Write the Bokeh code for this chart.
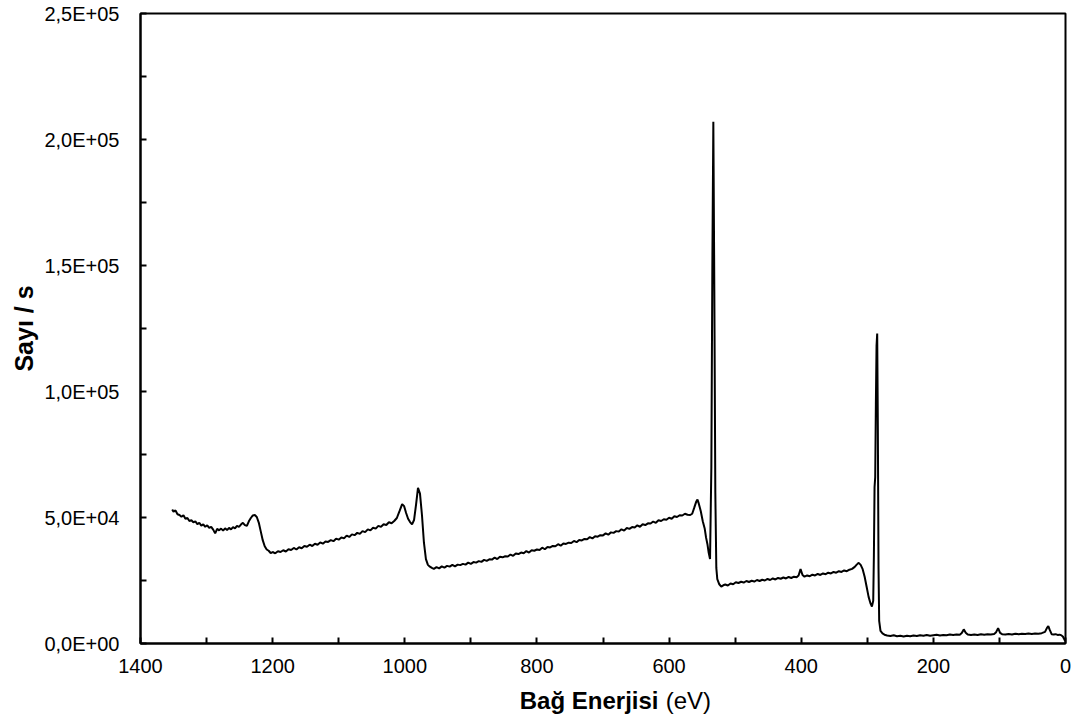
from bokeh.plotting import figure
from bokeh.models import Range1d, FixedTicker
from bokeh.layouts import column
from bokeh.core.properties import value
from bokeh.embed import file_html
from bokeh.resources import INLINE

# ---- data (binding energy in eV, counts per second) ----
energy_a = [1352, 1350, 1347, 1344, 1341, 1338, 1335, 1332, 1329, 1326, 1323, 1320, 1317, 1314, 1311,
            1308, 1305, 1302, 1299, 1296, 1293, 1290, 1287, 1284, 1281, 1278, 1275, 1272, 1269, 1266,
            1263, 1260, 1257, 1254, 1251, 1248, 1245, 1242, 1239, 1236, 1233, 1230, 1227, 1224, 1221,
            1218, 1215, 1212, 1209, 1206, 1203, 1200]
counts_a = [53200, 52300, 52800, 51300, 51000, 50300, 50900, 49500, 49800, 48600, 48900, 48100, 48500, 47400, 47900,
            46800, 47300, 46300, 46900, 45900, 46300, 45200, 43700, 45500, 44900, 45600, 44800, 45700, 45000, 45900,
            45300, 46200, 45700, 46700, 46300, 47200, 47900, 47000, 46700, 48500, 49800, 50800, 51000, 50200, 48000,
            44500, 41000, 38600, 37300, 36800, 35900, 36300]

energy_b = [1196, 1192, 1188, 1184, 1180, 1176, 1172, 1168, 1164, 1160, 1156, 1152, 1148, 1144, 1140,
            1136, 1132, 1128, 1124, 1120, 1116, 1112, 1108, 1104, 1100, 1096, 1092, 1088, 1084, 1080,
            1076, 1072, 1068, 1064, 1060, 1056, 1052, 1048, 1044, 1040, 1036, 1032, 1028, 1024, 1020,
            1016, 1012, 1008, 1004, 1001, 998, 995, 992, 989, 986, 983, 980, 977, 974, 971,
            968, 965, 962, 959, 956]
counts_b = [35800, 36600, 36300, 37000, 36500, 37400, 37100, 37900, 37300, 38200, 37800, 38700, 38400, 39200, 38700,
            39600, 39200, 40100, 39600, 40500, 40300, 41000, 40600, 41600, 41200, 42100, 41700, 42800, 42300, 43300,
            43000, 43900, 43500, 44600, 44200, 45300, 44900, 45900, 45600, 46700, 46300, 47300, 47000, 48100, 47700,
            48600, 49800, 52500, 55300, 54500, 51800, 49500, 48200, 47300, 49000, 55000, 61800, 59500, 51000, 40000,
            33500, 31200, 30500, 30000, 29600]

energy_c = [952, 948, 944, 940, 936, 932, 928, 924, 920, 916, 912, 908, 904, 900, 896,
            892, 888, 884, 880, 876, 872, 868, 864, 860, 856, 852, 848, 844, 840, 836,
            832, 828, 824, 820, 816, 812, 808, 804, 800, 796, 792, 788, 784, 780, 776,
            772, 768, 764, 760, 756, 752, 748, 744, 740, 736, 732, 728, 724, 720, 716,
            712, 708, 704, 700, 696, 692, 688, 684, 680, 676, 672, 668, 664, 660, 656,
            652, 648, 644, 640, 636, 632, 628, 624, 620, 616, 612, 608, 604, 600, 596,
            592, 588, 584, 580, 576, 572, 568, 565]
counts_c = [30300, 29800, 30600, 30100, 30800, 30500, 31200, 30600, 31300, 31100, 31600, 31300, 32100, 31600, 32300,
            32100, 32700, 32400, 33200, 32800, 33400, 33300, 34100, 33500, 34400, 34200, 34600, 34500, 35300, 34800,
            35700, 35500, 36100, 35800, 36700, 36100, 37000, 36800, 37300, 37100, 38000, 37400, 38300, 38100, 38700,
            38600, 39400, 38800, 39700, 39500, 40000, 39900, 40700, 40200, 41100, 40900, 41500, 41400, 42200, 41700,
            42600, 42400, 43000, 42900, 43700, 43200, 44100, 43900, 44600, 44400, 45300, 44800, 45800, 45500, 46200,
            46000, 46900, 46300, 47300, 47000, 47700, 47600, 48400, 47900, 48900, 48600, 49300, 49100, 49900, 49500,
            50500, 50200, 50900, 50800, 51500, 51100, 51000, 51500]

energy_d = [562, 559, 557, 555, 552, 549, 546, 544, 542, 540, 538, 536, 534.5, 533, 531.5,
            530, 528.5, 527, 524, 521, 518]
counts_d = [53800, 56200, 57100, 55500, 52500, 48500, 45500, 42000, 39500, 36000, 33500, 70000, 150000, 207000, 140000,
            60000, 30000, 25500, 23500, 22600, 23100]

energy_e = [515, 511, 507, 503, 499, 495, 491, 487, 483, 479, 475, 471, 467, 463, 459,
            455, 451, 447, 443, 439, 435, 431, 427, 423, 419, 415, 411, 407, 404, 401,
            398, 395, 391, 387, 383, 379, 375, 371, 367, 363, 359, 355, 351, 347, 343,
            339, 335, 331, 327, 323, 319, 316, 313, 310, 307, 304, 301, 298, 295, 293,
            291, 290, 289, 288, 287, 286, 285, 284, 283, 282, 280, 277, 274]
counts_e = [23400, 23000, 23800, 23500, 24300, 24000, 24500, 24200, 24800, 24400, 24900, 24600, 25200, 24800, 25300,
            25000, 25600, 25200, 25800, 25400, 26000, 25700, 26200, 25800, 26400, 26000, 26500, 26300, 27000, 29500,
            27200, 26500, 27000, 26700, 27300, 27000, 27600, 27200, 27800, 27500, 28100, 27800, 28400, 28100, 28700,
            28400, 29000, 28700, 29300, 29600, 30400, 31300, 32000, 31200, 29500, 26500, 22500, 18500, 15800, 14700,
            17000, 35000, 62000, 66000, 95000, 118000, 123000, 85000, 30000, 9000, 5000, 4000, 3500]

energy_f = [270, 265, 260, 255, 250, 245, 240, 235, 230, 225, 220, 215, 210, 205, 200,
            195, 190, 185, 180, 175, 170, 165, 160, 157, 154, 151, 148, 143, 138, 133,
            128, 123, 118, 113, 108, 105, 102, 99, 96, 91, 86, 81, 76, 71, 66,
            61, 56, 51, 46, 41, 36, 31, 28, 26, 24, 21, 18, 15, 12, 9,
            6, 4, 2, 0.5]
counts_f = [3200, 3000, 3300, 2900, 3100, 2800, 3100, 2900, 3200, 3000, 3300, 3100, 3400, 3100, 3300,
            3500, 3200, 3400, 3300, 3600, 3400, 3600, 3500, 4200, 5600, 4300, 3600, 3400, 3600, 3400,
            3700, 3500, 3700, 3600, 3800, 4500, 6100, 4200, 3700, 3600, 3800, 3600, 3900, 3700, 3900,
            3800, 4000, 3800, 4000, 3900, 4100, 4600, 6200, 6900, 5500, 3700, 3600, 3700, 3400, 3500,
            3200, 2800, 1800, 1000]

energy = energy_a + energy_b + energy_c + energy_d + energy_e + energy_f
counts = counts_a + counts_b + counts_c + counts_d + counts_e + counts_f

x_ticks = [0, 200, 400, 600, 800, 1000, 1200, 1400]
x_minor = [100, 300, 500, 700, 900, 1100, 1300]
y_ticks = [0, 50000, 100000, 150000, 200000, 250000]
y_minor = [25000, 75000, 125000, 175000, 225000]
y_labels = ["0,0E+00", "5,0E+04", "1,0E+05", "1,5E+05", "2,0E+05", "2,5E+05"]

x_title_bold = "Bağ Enerjisi"
x_title_unit = "(eV)"
y_title = "Sayı / s"

FONT = "Liberation Sans"

p = figure(width=1082, height=680, output_backend="svg", toolbar_location=None,
           x_range=Range1d(1400, 0), y_range=Range1d(0, 250000),
           min_border_left=140, min_border_right=17, min_border_top=13, min_border_bottom=37)
p.background_fill_color = "white"
p.border_fill_color = "white"
p.outline_line_color = "black"
p.outline_line_width = 2
p.xgrid.visible = False
p.ygrid.visible = False

p.line(energy, counts, line_color="black", line_width=2)

p.xaxis.ticker = FixedTicker(ticks=x_ticks, minor_ticks=x_minor)
p.yaxis.ticker = FixedTicker(ticks=y_ticks, minor_ticks=y_minor)
p.yaxis.major_label_overrides = {t: l for t, l in zip(y_ticks, y_labels)}

for ax in (p.xaxis[0], p.yaxis[0]):
    ax.axis_line_color = "black"
    ax.axis_line_width = 2
    ax.major_tick_line_color = "black"
    ax.major_tick_line_width = 2
    ax.minor_tick_line_color = "black"
    ax.minor_tick_line_width = 2
    ax.major_tick_in = 6
    ax.major_tick_out = 0
    ax.minor_tick_in = 6
    ax.minor_tick_out = 0
    ax.major_label_text_font = FONT
    ax.major_label_text_font_size = "20px"
    ax.major_label_text_color = "black"

p.xaxis.major_label_standoff = 15
p.yaxis.major_label_standoff = 21

p.yaxis.axis_label = y_title
p.yaxis.axis_label_text_font = FONT
p.yaxis.axis_label_text_font_size = "25px"
p.yaxis.axis_label_text_font_style = "bold"
p.yaxis.axis_label_text_color = "black"
p.yaxis.axis_label_standoff = 3

# strip below the chart carrying the x-axis title (bold part + regular unit)
p2 = figure(width=1082, height=44, output_backend="svg", toolbar_location=None,
            x_range=p.x_range, y_range=Range1d(0, 44),
            x_axis_type=None, y_axis_type=None,
            min_border_left=140, min_border_right=17, min_border_top=0, min_border_bottom=0)
p2.outline_line_color = None
p2.grid.visible = False
p2.background_fill_color = "white"
p2.border_fill_color = "white"

p2.text(x=[616], y=[24], text=[x_title_bold], text_font=value(FONT), text_font_size="24px",
        text_font_style="bold", text_align="right", text_baseline="middle", text_color="black")
p2.text(x=[605], y=[24], text=[x_title_unit], text_font=value(FONT), text_font_size="24px",
        text_font_style="normal", text_align="left", text_baseline="middle", text_color="black")

layout = column(p, p2, spacing=0)

open("out.html", "w").write(file_html(layout, INLINE))
